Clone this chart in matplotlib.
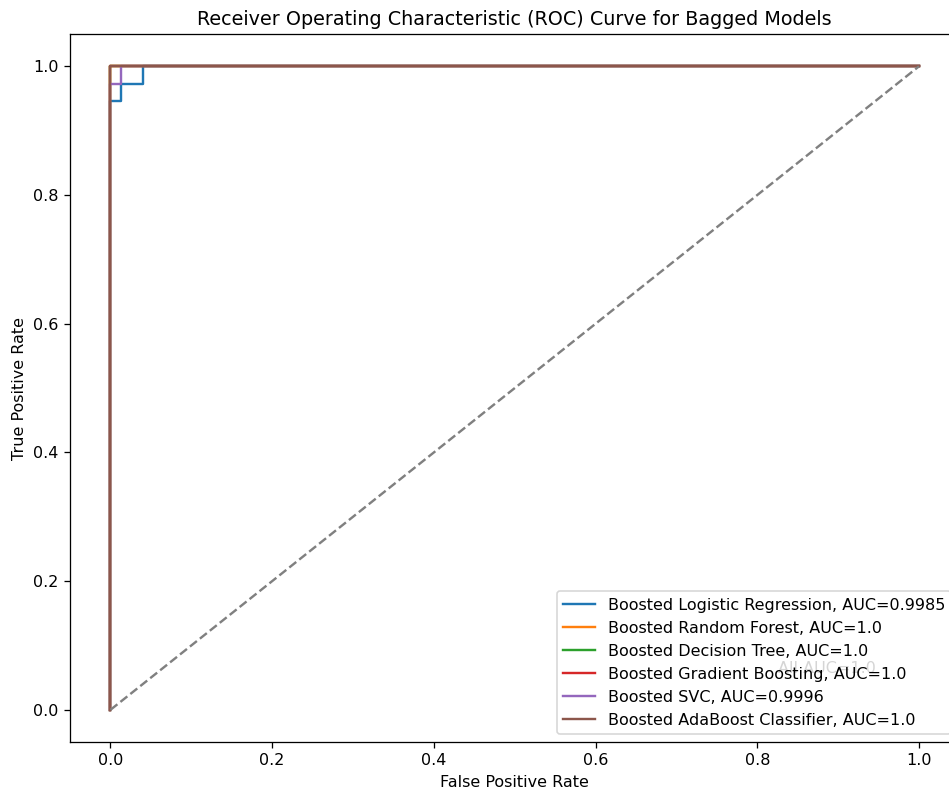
import numpy as np
import matplotlib
matplotlib.use('Agg')
import matplotlib.pyplot as plt

# ROC points per model (fpr, tpr) and their reported AUC
model_names = ['Boosted Logistic Regression', 'Boosted Random Forest',
               'Boosted Decision Tree', 'Boosted Gradient Boosting',
               'Boosted SVC', 'Boosted AdaBoost Classifier']
auc_values = ['0.9985', '1.0', '1.0', '1.0', '0.9996', '1.0']

fpr_lr = [0.0, 0.0, 0.0135, 0.0135, 0.0405, 0.0405, 1.0]
tpr_lr = [0.0, 0.946, 0.946, 0.973, 0.973, 1.0, 1.0]
fpr_perfect = [0.0, 0.0, 1.0]
tpr_perfect = [0.0, 1.0, 1.0]
fpr_svc = [0.0, 0.0, 0.0135, 0.0135, 1.0]
tpr_svc = [0.0, 0.973, 0.973, 1.0, 1.0]

curves = [(fpr_lr, tpr_lr), (fpr_perfect, tpr_perfect), (fpr_perfect, tpr_perfect),
          (fpr_perfect, tpr_perfect), (fpr_svc, tpr_svc), (fpr_perfect, tpr_perfect)]

DPI = 115
fig, ax = plt.subplots(figsize=(949 / DPI, 794 / DPI), dpi=DPI)
# axes runs slightly past the right edge of the canvas
fig.subplots_adjust(left=0.0738, right=1.011, top=0.957, bottom=0.0655)

for name, auc, (fpr, tpr) in zip(model_names, auc_values, curves):
    ax.plot(fpr, tpr, label=f'{name}, AUC={auc}')

ax.plot([0, 1], [0, 1], linestyle='--', color='gray')
# note sits under the legend box
ax.text(0.826, 0.057, 'All AUC=1.0', color='#303030', fontsize=10, zorder=1)

ax.set_xlabel('False Positive Rate')
ax.set_ylabel('True Positive Rate')
ax.set_title('Receiver Operating Characteristic (ROC) Curve for Bagged Models')
ax.legend(loc='lower right')

fig.savefig('out.png', dpi=DPI)
